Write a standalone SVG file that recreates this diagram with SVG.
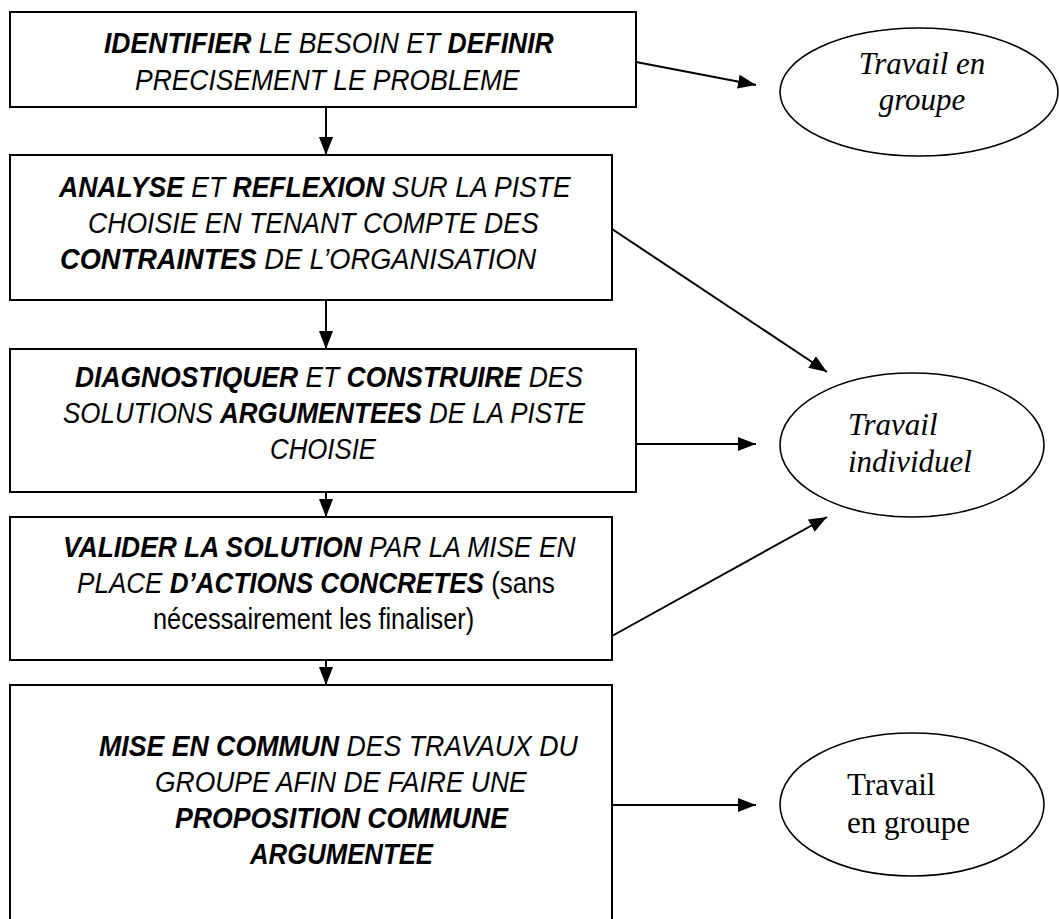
<svg xmlns="http://www.w3.org/2000/svg" width="1059" height="919" viewBox="0 0 1059 919">
<style>
.box{fill:#fff;stroke:#000;stroke-width:2}
.ell{fill:#fff;stroke:#000;stroke-width:1.6}
.t{font-family:"Liberation Sans",Arial,sans-serif;font-size:30px;font-style:italic;fill:#000}
.b{font-weight:bold}
.r{font-style:normal}
.s{font-family:"Liberation Serif","Times New Roman",serif;font-size:31px;fill:#000}
.i{font-style:italic}
.c{stroke:#000;stroke-width:2;fill:none;marker-end:url(#ah)}
</style>
<defs>
<marker id="ah" markerUnits="userSpaceOnUse" markerWidth="18" markerHeight="14" refX="18" refY="7" orient="auto">
<path d="M0,0 L18,7 L0,14 z" fill="#000"/>
</marker>
</defs>
<rect width="1059" height="919" fill="#fff"/>
<g id="connectors">
<line class="c" x1="326" y1="107" x2="326" y2="155"/>
<line class="c" x1="326" y1="300" x2="326" y2="349"/>
<line class="c" x1="326" y1="492" x2="326" y2="517"/>
<line class="c" x1="326" y1="660" x2="326" y2="685"/>
<line class="c" x1="636" y1="62" x2="756" y2="85"/>
<line class="c" x1="612" y1="229" x2="827" y2="372"/>
<line class="c" x1="636" y1="444" x2="756" y2="444"/>
<line class="c" x1="612" y1="636" x2="827" y2="517"/>
<line class="c" x1="612" y1="805" x2="756" y2="805"/>
</g>
<g id="box1">
<rect class="box" x="10" y="12" width="626" height="95"/>
<text class="t" transform="translate(104,53) scale(0.885,1)"><tspan class="b">IDENTIFIER</tspan> LE BESOIN ET <tspan class="b">DEFINIR</tspan></text>
<text class="t" transform="translate(135,90) scale(0.881,1)">PRECISEMENT LE PROBLEME</text>
</g>
<g id="box2">
<rect class="box" x="10" y="155" width="602" height="145"/>
<text class="t" transform="translate(59,197) scale(0.885,1)"><tspan class="b">ANALYSE</tspan> ET <tspan class="b">REFLEXION</tspan> SUR LA PISTE</text>
<text class="t" transform="translate(88,233) scale(0.887,1)">CHOISIE EN TENANT COMPTE DES</text>
<text class="t" transform="translate(60,269) scale(0.908,1)"><tspan class="b">CONTRAINTES</tspan> DE L’ORGANISATION</text>
</g>
<g id="box3">
<rect class="box" x="10" y="349" width="626" height="143"/>
<text class="t" transform="translate(75,387) scale(0.881,1)"><tspan class="b">DIAGNOSTIQUER</tspan> ET <tspan class="b">CONSTRUIRE</tspan> DES</text>
<text class="t" transform="translate(63,423) scale(0.865,1)">SOLUTIONS <tspan class="b">ARGUMENTEES</tspan> DE LA PISTE</text>
<text class="t" transform="translate(270,459) scale(0.86,1)">CHOISIE</text>
</g>
<g id="box4">
<rect class="box" x="10" y="517" width="602" height="143"/>
<text class="t" transform="translate(63,557) scale(0.879,1)"><tspan class="b">VALIDER LA SOLUTION</tspan> PAR LA MISE EN</text>
<text class="t" transform="translate(77,593) scale(0.869,1)">PLACE <tspan class="b">D’ACTIONS CONCRETES</tspan> <tspan class="r">(sans</tspan></text>
<text class="t r" transform="translate(153,629) scale(0.845,1)">nécessairement les finaliser)</text>
</g>
<g id="box5">
<rect class="box" x="10" y="685" width="602" height="260"/>
<text class="t" transform="translate(99,756) scale(0.89,1)"><tspan class="b">MISE EN COMMUN</tspan> DES TRAVAUX DU</text>
<text class="t" transform="translate(155,792) scale(0.882,1)">GROUPE AFIN DE FAIRE UNE</text>
<text class="t b" transform="translate(175,828) scale(0.888,1)">PROPOSITION COMMUNE</text>
<text class="t b" transform="translate(250,864) scale(0.858,1)">ARGUMENTEE</text>
</g>
<g id="ellipse1">
<ellipse class="ell" cx="919" cy="92" rx="139" ry="64"/>
<text class="s i" x="922" y="74" text-anchor="middle">Travail en</text>
<text class="s i" x="922" y="110" text-anchor="middle">groupe</text>
</g>
<g id="ellipse2">
<ellipse class="ell" cx="912" cy="445" rx="132" ry="72"/>
<text class="s i" x="848" y="435">Travail</text>
<text class="s i" x="848" y="472">individuel</text>
</g>
<g id="ellipse3">
<ellipse class="ell" cx="912" cy="804.5" rx="132" ry="71.5"/>
<text class="s" x="847" y="795">Travail</text>
<text class="s" x="847" y="833">en groupe</text>
</g>
</svg>
